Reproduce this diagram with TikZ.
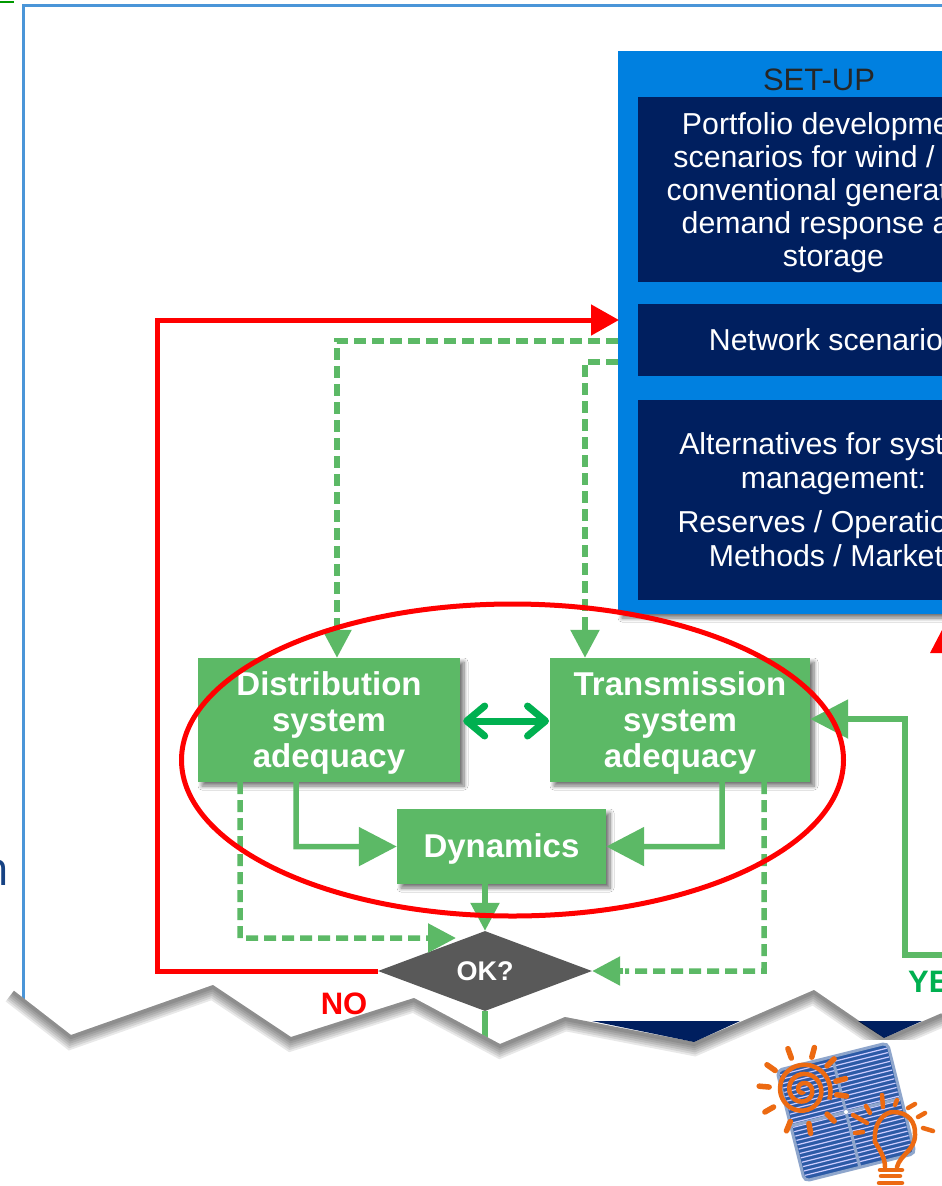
\documentclass[tikz,border=0pt]{standalone}
\usepackage{fontspec}
\setmainfont{Liberation Sans}
\newfontfamily\leftfont{Open Sans}

\usetikzlibrary{arrows}
\usetikzlibrary{arrows.meta}
\usetikzlibrary{shapes.geometric}
\usetikzlibrary{shadows.blur}

\definecolor{setupblue}{HTML}{0080E0}
\definecolor{setupnavy}{HTML}{001F5F}
\definecolor{boxgreen}{HTML}{5CB966}
\definecolor{arrowgreen}{HTML}{00B050}
\definecolor{framblue}{HTML}{4A95D8}
\definecolor{sunorange}{HTML}{EC6A12}
\definecolor{panelblue}{HTML}{2C5AA6}
\definecolor{paneledge}{HTML}{8FA6CC}

% invisible widths and heights for the cut off lines
\newcommand{\padw}[1]{\rule{#1pt}{0pt}}
\newcommand{\padh}[1]{\rule{0pt}{#1pt}}

\tikzset{
    softshadow/.style={blur shadow={shadow xshift=4pt,shadow yshift=-4pt,shadow blur radius=4pt,shadow blur steps=8,shadow opacity=55}},
    greenbox/.style={fill=boxgreen,text=white,align=center,inner sep=0pt,softshadow,
        font=\fontsize{33}{36}\selectfont\bfseries},
    navybox/.style={fill=setupnavy,text=white,align=center,inner sep=0pt,minimum width=392pt},
    navyfont/.style={font=\fontsize{30.3}{33}\selectfont},
    greenline/.style={draw=boxgreen,line width=5.5pt},
    greendash/.style={greenline,dash pattern=on 12pt off 6pt},
    bigtip/.style={-{Triangle[length=38pt,width=38pt]}},
    midtip/.style={-{Triangle[length=28pt,width=28pt]}}
}

\begin{document}
\begin{tikzpicture}[x=1pt,y=-1pt]

    \useasboundingbox (0,0) rectangle (942,1186);
    \clip (0,0) rectangle (942,1186);

    % slide frame and what is left of the slide around it
    \fill[white] (0,0) rectangle (942,1186);
    \draw[framblue,line width=3pt] (23,1005) -- (23,5) -- (942,5);
    \draw[green!60!black,line width=2pt] (0,2) -- (14,2);
    \node[anchor=base east,inner sep=0pt,text=setupnavy!70!framblue,font=\fontsize{47}{47}\selectfont\leftfont] (cutletter) at (9.5,885) {n};

    % set-up column
    \node[fill=setupblue,minimum width=422pt,minimum height=563pt,inner sep=0pt,softshadow] (setup) at (829,332.5) {};
    \node[font=\fontsize{31}{33}\selectfont,text=black!85,inner sep=0pt] (setuptitle) at (819,80) {SET-UP};
    \node[navybox,navyfont,minimum height=185pt] (portfolio) at (833.5,189.5) {\padh{28}Portfolio development\padw{10}\\ scenarios for wind /\padw{59}\\ conventional generation\padw{12}\\ demand response and\padw{2}\\ storage};
    \node[navybox,navyfont,minimum height=72pt] (network) at (833.5,340) {Network scenarios};
    \node[navybox,font=\fontsize{30.3}{34}\selectfont,minimum height=200pt] (alternatives) at (833.5,500) {Alternatives for system\padw{2}\\ management:\\[10pt] Reserves / Operational\padw{2}\\ Methods / Markets};

    % red triangle below the column
    \coordinate (redtip) at (942,630);
    \fill[red] (redtip) -- (930,653) -- (942,653) -- cycle;

    % adequacy boxes
    \node[greenbox,minimum width=262pt,minimum height=124pt] (distribution) at (329,720) {\padh{30}Distribution\\ system\\ adequacy};
    \node[greenbox,minimum width=260pt,minimum height=124pt] (transmission) at (680,720) {\padh{30}Transmission\\ system\\ adequacy};
    \node[greenbox,minimum width=209pt,minimum height=75pt] (dynamics) at (501.5,846.5) {\padh{28}Dynamics};
    \node[diamond,aspect=2.67,fill=black!65,text=white,inner sep=0pt,minimum width=214pt,minimum height=80pt,
        font=\fontsize{27}{28}\selectfont\bfseries] (okcheck) at (485,971) {OK?};

    % named ends
    \coordinate (yesstart) at (950,955);
    \coordinate (tearend) at (485,1040);
    \coordinate (dashleft) at (456,938);

    % red return line
    \draw[red,line width=5pt,-{Triangle[length=28pt,width=30pt]}] (okcheck.west) -- (157,971) -- (157,320) -- (619,320);

    % dashed lines from the column
    \draw[greendash] (setup.west |- 0,341) -- (337,341) -- (337,630);
    \draw[greenline,midtip] (337,628) -- (distribution.north -| 337,0);
    \draw[greendash] (setup.west |- 0,362) -- (585,362) -- (585,630);
    \draw[greenline,midtip] (585,628) -- (transmission.north -| 585,0);

    % links between the boxes
    \draw[arrowgreen,line width=7pt,{Straight Barb[length=18pt,width=30pt,round]}-{Straight Barb[length=18pt,width=30pt,round]}] (distribution.east) ++(3,1) -- (549,721);
    \draw[greenline,bigtip] ([xshift=-33pt]distribution.south) -- ++(0,64.5) -- (dynamics.west);
    \draw[greenline,bigtip] ([xshift=42pt]transmission.south) -- ++(0,64.5) -- (dynamics.east);
    \draw[greenline,midtip] (dynamics.south -| okcheck.north) -- (okcheck.north);
    \draw[greenline] (okcheck.south) -- (tearend);

    % dashed lines to the check
    \draw[greendash] ([xshift=-89pt]distribution.south) -- ++(0,156) -- (430,938);
    \draw[greenline,midtip] (428,938) -- (dashleft);
    \draw[greendash] ([xshift=84pt]transmission.south) -- ++(0,189) -- (625,971);
    \draw[greenline,midtip] (623,971) -- (okcheck.east);

    % yes line
    \draw[greenline,bigtip] (yesstart) -- (905,955) -- (905,719) -- (transmission.east |- 0,719);

    % labels on the lines
    \node[text=red,inner sep=0pt,font=\fontsize{31}{33}\selectfont\bfseries] (nolabel) at (344,1004) {NO};
    \node[anchor=west,text=arrowgreen,inner sep=0pt,font=\fontsize{31}{33}\selectfont\bfseries] (yeslabel) at (908,982) {YES};

    % red ring
    \node[ellipse,draw=red,line width=5pt,minimum width=662pt,minimum height=312pt,inner sep=0pt] (ring) at (512.5,760) {};

    % torn lower edge of the slide
    \fill[white] (0,990) -- (13,990) -- (71,1035) -- (213,985) -- (291,1037) -- (414,998) -- (500,1044) -- (565,1017) -- (694,1042) -- (814,990) -- (884,1038) -- (942,1013) -- (942,1186) -- (0,1186) -- cycle;
    \fill[setupnavy] (592,1021) -- (740,1021) -- (694,1042) -- cycle;
    \fill[setupnavy] (858,1021) -- (922,1021) -- (884,1038) -- cycle;
    \begin{scope}
        \clip (0,990) -- (13,990) -- (71,1035) -- (213,985) -- (291,1037) -- (414,998) -- (500,1044) -- (565,1017) -- (694,1042) -- (814,990) -- (884,1038) -- (942,1013) -- (942,1186) -- (0,1186) -- cycle;
        \foreach \w in {24,20,16,12,8,4}
            \draw[black,opacity=0.09,line width=\w pt] (13,992) -- (71,1037) -- (213,987) -- (291,1039) -- (414,1000) -- (500,1046) -- (565,1019) -- (694,1044) -- (814,992) -- (884,1040) -- (942,1015);
    \end{scope}
    \fill[white] (850,1040) rectangle (942,1186);

    % solar panel
    \begin{scope}[shift={(846,1112)},x={(0.97pt,0.243pt)},y={(0.243pt,-0.97pt)}]
        \fill[panelblue,draw=paneledge,line width=3pt,rounded corners=5pt] (-57,-57) -- (57,-57) -- (57,57) -- (-57,57) -- cycle;
        \foreach \s in {-52,-47.5,...,53}
            \draw[white!80!blue,line width=1.2pt] (-55,\s) -- (55,\s);
        \draw[paneledge,line width=3pt] (-57,0) -- (57,0);
        \draw[paneledge,line width=3pt] (0,-57) -- (0,57);
    \end{scope}
    \fill[white] (846,1112) circle (2pt);

    % sun
    \coordinate (sun) at (803,1090);
    \draw[sunorange,line width=4.5pt,smooth,domain=60:1100,samples=90,variable=\t]
        plot ({803+\t/1100*28*cos(\t)},{1090+\t/1100*28*sin(\t)});
    \foreach \a in {8,45,80,112,150,185,215,250,285,315,345}
        \draw[sunorange,line width=5.5pt,line cap=round] ([shift={(\a:34)}]sun) -- ([shift={(\a:44)}]sun);

    % lamp
    \draw[sunorange,line width=4.5pt,line cap=round] (875,1142) .. controls (873,1122) and (885,1112) .. (893,1112)
        .. controls (908,1112) and (916,1122) .. (915,1135) .. controls (915,1150) and (900,1155) .. (897,1167);
    \draw[sunorange,line width=4.5pt,line cap=round] (875,1142) .. controls (880,1150) and (885,1158) .. (885,1167);
    \foreach \xa/\ya/\xb/\yb in {853/1115/867/1123,866/1106/870/1113,882/1095/883/1107,897/1100/895/1105,908/1108/915/1104,918/1117/925/1113,923/1128/933/1131,855/1133/863/1132,880/1170/902/1170,881/1176/900/1176,879/1183/902/1183}
        \draw[sunorange,line width=4.5pt,line cap=round] (\xa,\ya) -- (\xb,\yb);

\end{tikzpicture}
\end{document}
